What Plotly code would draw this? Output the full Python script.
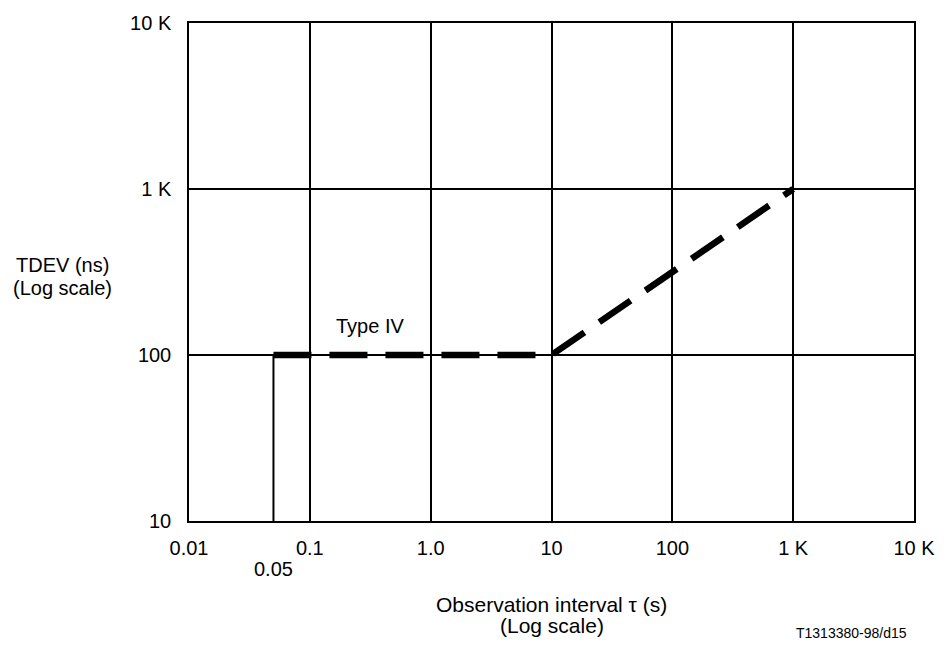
import plotly.graph_objects as go
import math

# Data
x_ticks = [0.01, 0.1, 1, 10, 100, 1000, 10000]
x_tick_labels = ["0.01", "0.1", "1.0", "10", "100", "1 K", "10 K"]
y_ticks = [10, 100, 1000, 10000]
y_tick_labels = ["10", "100", "1 K", "10 K"]

mask_tau = [0.05, 10, 1000]      # observation interval (s)
mask_tdev = [100, 100, 1000]     # TDEV (ns)
start_tau = [0.05, 0.05]
start_tdev = [10, 100]

FONT = "Liberation Sans, Arial, sans-serif"
FS = 20

fig = go.Figure()
fig.add_trace(go.Scatter(x=start_tau, y=start_tdev, mode="lines",
                         line=dict(color="black", width=2), showlegend=False, hoverinfo="skip"))
fig.add_trace(go.Scatter(x=mask_tau, y=mask_tdev, mode="lines",
                         line=dict(color="black", width=6.5, dash="38px,18px"),
                         showlegend=False, hoverinfo="skip"))

fig.update_layout(
    width=947, height=646,
    margin=dict(l=189, r=31, t=15, b=125, pad=0),
    paper_bgcolor="white", plot_bgcolor="white",
    font=dict(family=FONT, size=FS, color="black"),
    showlegend=False,
    xaxis=dict(type="log", range=[-2, 4], tickvals=x_ticks, ticktext=x_tick_labels,
               showgrid=True, gridcolor="black", gridwidth=2,
               showline=True, linecolor="black", linewidth=1.5, mirror=True,
               ticks="", ticklabelstandoff=8, zeroline=False),
    yaxis=dict(type="log", range=[1, 4], tickvals=y_ticks, ticktext=y_tick_labels,
               showgrid=True, gridcolor="black", gridwidth=1.5,
               showline=True, linecolor="black", linewidth=1.5, mirror=True,
               ticks="", ticklabelstandoff=12, zeroline=False),
)

ann = [
    dict(text="Type IV", x=0.2503, y=0.392, xref="paper", yref="paper"),
    dict(text="0.05", x=math.log10(0.05), y=-0.0972, xref="x", yref="paper"),
    dict(text="Observation interval τ (s)", x=0.5, y=-0.1667, xref="paper", yref="paper",
         font=dict(size=21)),
    dict(text="(Log scale)", x=0.5, y=-0.2103, xref="paper", yref="paper", font=dict(size=21)),
    dict(text="TDEV (ns)", x=-0.1747, y=0.5139, xref="paper", yref="paper"),
    dict(text="(Log scale)", x=-0.1747, y=0.4683, xref="paper", yref="paper"),
    dict(text="T1313380-98/d15", x=0.9133, y=-0.2242, xref="paper", yref="paper",
         font=dict(size=14)),
]
for a in ann:
    a.setdefault("font", dict(size=FS))
    fig.add_annotation(showarrow=False, xanchor="center", yanchor="middle", **a)

fig.write_html("out.html", config={"displayModeBar": False},
               post_script="document.body.style.margin='0';document.body.style.overflow='hidden';")
